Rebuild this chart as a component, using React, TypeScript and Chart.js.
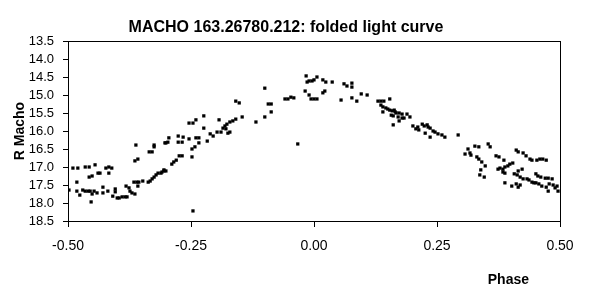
import { useEffect, useRef } from "react";
import { Chart, registerables } from "chart.js";

Chart.register(...registerables);

const TITLE = "MACHO 163.26780.212: folded light curve";
const X_TITLE = "Phase";
const Y_TITLE = "R Macho";
const X_TICK_VALUES = [-0.5, -0.25, 0, 0.25, 0.5];
const Y_RANGE = [13.5, 18.5];
const Y_STEP = 0.5;

// [phase, R magnitude]
const minimumBranch: [number, number][] = [
  [-0.49, 17.03], [-0.48, 17.03], [-0.465, 17.0], [-0.457, 17.0], [-0.445, 16.94],
  [-0.423, 17.03], [-0.417, 17.0], [-0.411, 17.03], [-0.417, 17.17], [-0.457, 17.28],
  [-0.451, 17.25], [-0.439, 17.17], [-0.435, 17.17], [-0.482, 17.42], [-0.498, 17.64],
  [-0.482, 17.67], [-0.476, 17.78], [-0.47, 17.64], [-0.465, 17.67], [-0.459, 17.67],
  [-0.455, 17.67], [-0.453, 17.97], [-0.451, 17.75], [-0.447, 17.67], [-0.441, 17.72],
  [-0.429, 17.56], [-0.429, 17.72], [-0.419, 17.67], [-0.409, 17.81], [-0.404, 17.61],
  [-0.404, 17.69], [-0.4, 17.86], [-0.396, 17.86], [-0.39, 17.83], [-0.384, 17.83],
  [-0.38, 17.83], [-0.382, 17.53], [-0.376, 17.58], [-0.374, 17.67], [-0.37, 17.72],
  [-0.364, 17.75], [-0.366, 17.42], [-0.36, 17.42], [-0.356, 17.42], [-0.348, 17.39],
  [-0.358, 17.53], [-0.337, 17.42], [-0.333, 17.39], [-0.329, 17.33], [-0.325, 17.28],
  [-0.321, 17.22], [-0.317, 17.17], [-0.311, 17.17], [-0.305, 17.08], [-0.364, 16.83],
  [-0.358, 16.78], [-0.362, 16.39], [-0.335, 16.58], [-0.329, 16.58], [-0.325, 16.44],
  [-0.325, 16.39], [-0.303, 16.33],
];

const risingBranch: [number, number][] = [
  [-0.309, 17.14], [-0.305, 17.11], [-0.301, 17.11], [-0.289, 16.92], [-0.285, 16.86],
  [-0.28, 16.81], [-0.274, 16.69], [-0.268, 16.69], [-0.301, 16.33], [-0.297, 16.31],
  [-0.295, 16.19], [-0.276, 16.14], [-0.266, 16.17], [-0.276, 16.31], [-0.268, 16.31],
  [-0.254, 16.22], [-0.248, 16.72], [-0.248, 16.5], [-0.242, 16.44], [-0.24, 16.19],
  [-0.234, 16.19], [-0.234, 16.33], [-0.254, 15.78], [-0.246, 15.78], [-0.24, 15.69],
  [-0.224, 15.58], [-0.224, 15.92], [-0.217, 16.28], [-0.211, 16.08], [-0.205, 16.14],
  [-0.193, 15.69], [-0.197, 16.03], [-0.189, 16.03], [-0.185, 15.92], [-0.181, 15.86],
  [-0.177, 15.81], [-0.179, 15.94], [-0.175, 16.06], [-0.171, 16.03], [-0.171, 15.75],
  [-0.165, 15.72], [-0.159, 15.67], [-0.159, 15.17], [-0.152, 15.22], [-0.146, 15.61],
  [-0.118, 15.75], [-0.246, 18.22],
];

const maximumBranch: [number, number][] = [
  [-0.1, 14.81], [-0.093, 15.25], [-0.087, 15.25], [-0.087, 15.47], [-0.1, 15.61],
  [-0.059, 15.11], [-0.053, 15.11], [-0.047, 15.06], [-0.041, 15.08], [-0.033, 16.36],
  [-0.016, 14.47], [-0.018, 14.89], [-0.014, 14.64], [-0.01, 14.61], [-0.004, 14.61],
  [0.0, 14.58], [-0.01, 15.0], [-0.006, 15.11], [0.0, 15.11], [0.006, 15.11],
  [0.006, 14.5], [0.018, 14.58], [0.024, 14.64], [0.037, 14.64], [0.018, 14.94],
  [0.022, 14.89], [0.055, 15.14], [0.061, 14.69], [0.067, 14.75], [0.077, 14.67],
  [0.077, 14.78], [0.077, 15.08], [0.087, 15.17], [0.096, 14.97],
];

const fallingBranch: [number, number][] = [
  [0.108, 15.0], [0.13, 15.17], [0.136, 15.17], [0.142, 15.17], [0.154, 15.11],
  [0.136, 15.28], [0.14, 15.33], [0.146, 15.36], [0.15, 15.39], [0.14, 15.47],
  [0.154, 15.42], [0.159, 15.44], [0.163, 15.42], [0.165, 15.47], [0.157, 15.56],
  [0.161, 15.58], [0.167, 15.5], [0.171, 15.61], [0.173, 15.5], [0.179, 15.53],
  [0.179, 15.64], [0.183, 15.64], [0.189, 15.53], [0.195, 15.61], [0.173, 15.72],
  [0.161, 15.83], [0.201, 15.86], [0.207, 15.94], [0.211, 15.89], [0.213, 15.97],
  [0.22, 15.81], [0.224, 15.86], [0.23, 15.83], [0.232, 15.89], [0.236, 15.92],
  [0.242, 16.0], [0.246, 16.03], [0.252, 16.08], [0.26, 16.11], [0.266, 16.17],
  [0.226, 16.06], [0.236, 16.17], [0.293, 16.11],
];

const lateBranch: [number, number][] = [
  [0.313, 16.5], [0.307, 16.64], [0.317, 16.61], [0.319, 16.67], [0.327, 16.42],
  [0.335, 16.44], [0.354, 16.36], [0.358, 16.44], [0.331, 16.72], [0.335, 16.78],
  [0.341, 16.86], [0.348, 16.97], [0.339, 17.08], [0.337, 17.22], [0.346, 17.28],
  [0.37, 16.69], [0.376, 16.72], [0.386, 16.81], [0.374, 17.06], [0.378, 17.03],
  [0.384, 17.06], [0.388, 17.0], [0.394, 16.97], [0.388, 17.17], [0.384, 17.14],
  [0.398, 16.92], [0.404, 16.89], [0.411, 16.53], [0.415, 16.58], [0.423, 17.06],
  [0.425, 16.61], [0.431, 16.69], [0.439, 16.78], [0.443, 16.81], [0.453, 16.81],
  [0.459, 16.78], [0.465, 16.78], [0.472, 16.81], [0.407, 17.19], [0.413, 17.22],
  [0.419, 17.28], [0.425, 17.33], [0.433, 17.33], [0.437, 17.36], [0.443, 17.42],
  [0.447, 17.44], [0.415, 17.11], [0.388, 17.44], [0.402, 17.53], [0.411, 17.47],
  [0.415, 17.56], [0.419, 17.5], [0.451, 17.19], [0.455, 17.25], [0.461, 17.28],
  [0.47, 17.31], [0.476, 17.31], [0.484, 17.33], [0.451, 17.44], [0.457, 17.47],
  [0.463, 17.53], [0.472, 17.56], [0.478, 17.47], [0.486, 17.5], [0.49, 17.58],
  [0.494, 17.53], [0.476, 17.67], [0.496, 17.67],
];

const FONT = "'Liberation Sans', Arial, sans-serif";

const plotBox = {
  id: "plotBox",
  beforeDatasetsDraw(chart: any) {
    const { ctx, chartArea } = chart;
    const { left, top, right, bottom } = chartArea;
    ctx.save();
    ctx.strokeStyle = "#000";
    ctx.lineWidth = 1;
    ctx.strokeRect(
      Math.round(left) + 0.5,
      Math.round(top) + 0.5,
      Math.round(right - left),
      Math.round(bottom - top)
    );
    ctx.restore();
  },
};

const xTitlePlugin = {
  id: "xTitlePlugin",
  afterDraw(chart: any) {
    const { ctx, chartArea } = chart;
    ctx.save();
    ctx.font = `bold 14px ${FONT}`;
    ctx.fillStyle = "#000";
    ctx.textAlign = "right";
    ctx.textBaseline = "middle";
    ctx.fillText(X_TITLE, chartArea.right - 31, chart.height - 13);
    ctx.restore();
  },
};

export default function App() {
  const ref = useRef<HTMLCanvasElement | null>(null);

  useEffect(() => {
    document.body.style.margin = "0";
    const canvas = ref.current;
    if (!canvas) return;
    const points = [
      ...minimumBranch,
      ...risingBranch,
      ...maximumBranch,
      ...fallingBranch,
      ...lateBranch,
    ].map(([x, y]) => ({ x, y }));

    const chart = new Chart(canvas, {
      type: "scatter",
      data: {
        datasets: [
          {
            data: points,
            pointStyle: "rect",
            pointRadius: 2.3,
            pointBorderWidth: 0,
            backgroundColor: "#000",
            borderColor: "#000",
            showLine: false,
          },
        ],
      },
      plugins: [plotBox, xTitlePlugin],
      options: {
        animation: false,
        responsive: false,
        devicePixelRatio: 1,
        layout: { padding: { left: 12, right: 29, top: 0, bottom: 0 } },
        plugins: {
          legend: { display: false },
          tooltip: { enabled: false },
          title: {
            display: true,
            text: TITLE,
            color: "#000",
            font: { family: FONT, size: 16, weight: "bold" },
            padding: { top: 18, bottom: 3.8 },
          },
        },
        scales: {
          x: {
            type: "linear",
            min: X_TICK_VALUES[0],
            max: X_TICK_VALUES[X_TICK_VALUES.length - 1],
            afterBuildTicks: (scale: any) => {
              scale.ticks = X_TICK_VALUES.map((v) => ({ value: v }));
            },
            afterFit: (scale: any) => {
              scale.height = 72;
            },
            ticks: {
              color: "#000",
              font: { family: FONT, size: 14 },
              padding: 11,
              maxRotation: 0,
              autoSkip: false,
              callback: (v: any) => Number(v).toFixed(2),
            },
            grid: {
              drawOnChartArea: false,
              drawTicks: true,
              tickLength: 6,
              color: "#000",
            },
            border: { display: true, color: "#000" },
          },
          y: {
            type: "linear",
            reverse: true,
            min: Y_RANGE[0],
            max: Y_RANGE[1],
            afterFit: (scale: any) => {
              scale.width = 56;
            },
            ticks: {
              stepSize: Y_STEP,
              color: "#000",
              font: { family: FONT, size: 13 },
              padding: 9,
              autoSkip: false,
              callback: (v: any) => Number(v).toFixed(1),
            },
            grid: {
              drawOnChartArea: false,
              drawTicks: true,
              tickLength: 5,
              color: "#000",
            },
            border: { display: true, color: "#000" },
            title: {
              display: true,
              text: Y_TITLE,
              color: "#000",
              font: { family: FONT, size: 14, weight: "bold" },
              padding: { top: 0, bottom: 0 },
            },
          },
        },
      },
    } as any);

    return () => chart.destroy();
  }, []);

  return (
    <canvas
      ref={ref}
      width={589}
      height={293}
      style={{ display: "block", width: 589, height: 293 }}
    />
  );
}
